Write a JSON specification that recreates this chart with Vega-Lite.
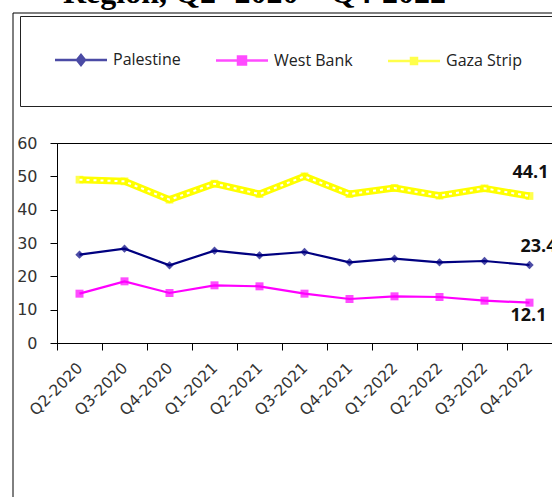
{
  "$schema": "https://vega.github.io/schema/vega-lite/v6.json",
  "width": 495,
  "height": 200,
  "autosize": {"type": "none"},
  "padding": {"left": 57, "top": 143, "right": 0, "bottom": 154},
  "background": "white",
  "title": {
    "text": "Region, Q2- 2020 – Q4-2022",
    "font": "Liberation Serif",
    "fontSize": 32,
    "fontWeight": "bold",
    "color": "black",
    "anchor": "start",
    "frame": "group",
    "baseline": "alphabetic",
    "offset": 0,
    "dx": 6,
    "dy": 23
  },
  "data": {
    "values": [
      {"quarter": "Q2-2020", "series": "Palestine", "value": 26.5},
      {"quarter": "Q3-2020", "series": "Palestine", "value": 28.3},
      {"quarter": "Q4-2020", "series": "Palestine", "value": 23.3},
      {"quarter": "Q1-2021", "series": "Palestine", "value": 27.7},
      {"quarter": "Q2-2021", "series": "Palestine", "value": 26.3},
      {"quarter": "Q3-2021", "series": "Palestine", "value": 27.3},
      {"quarter": "Q4-2021", "series": "Palestine", "value": 24.2},
      {"quarter": "Q1-2022", "series": "Palestine", "value": 25.3},
      {"quarter": "Q2-2022", "series": "Palestine", "value": 24.2},
      {"quarter": "Q3-2022", "series": "Palestine", "value": 24.6},
      {"quarter": "Q4-2022", "series": "Palestine", "value": 23.4},
      {"quarter": "Q2-2020", "series": "West Bank", "value": 14.8},
      {"quarter": "Q3-2020", "series": "West Bank", "value": 18.5},
      {"quarter": "Q4-2020", "series": "West Bank", "value": 15.0},
      {"quarter": "Q1-2021", "series": "West Bank", "value": 17.3},
      {"quarter": "Q2-2021", "series": "West Bank", "value": 17.0},
      {"quarter": "Q3-2021", "series": "West Bank", "value": 14.8},
      {"quarter": "Q4-2021", "series": "West Bank", "value": 13.2},
      {"quarter": "Q1-2022", "series": "West Bank", "value": 14.0},
      {"quarter": "Q2-2022", "series": "West Bank", "value": 13.8},
      {"quarter": "Q3-2022", "series": "West Bank", "value": 12.7},
      {"quarter": "Q4-2022", "series": "West Bank", "value": 12.1},
      {"quarter": "Q2-2020", "series": "Gaza Strip", "value": 49.0},
      {"quarter": "Q3-2020", "series": "Gaza Strip", "value": 48.5},
      {"quarter": "Q4-2020", "series": "Gaza Strip", "value": 43.0},
      {"quarter": "Q1-2021", "series": "Gaza Strip", "value": 47.8},
      {"quarter": "Q2-2021", "series": "Gaza Strip", "value": 44.7},
      {"quarter": "Q3-2021", "series": "Gaza Strip", "value": 50.0},
      {"quarter": "Q4-2021", "series": "Gaza Strip", "value": 44.7},
      {"quarter": "Q1-2022", "series": "Gaza Strip", "value": 46.5},
      {"quarter": "Q2-2022", "series": "Gaza Strip", "value": 44.2},
      {"quarter": "Q3-2022", "series": "Gaza Strip", "value": 46.4},
      {"quarter": "Q4-2022", "series": "Gaza Strip", "value": 44.1}
    ]
  },
  "encoding": {
    "x": {
      "field": "quarter",
      "type": "nominal",
      "sort": ["Q2-2020", "Q3-2020", "Q4-2020", "Q1-2021", "Q2-2021", "Q3-2021", "Q4-2021", "Q1-2022", "Q2-2022", "Q3-2022", "Q4-2022"],
      "scale": {"type": "band", "paddingInner": 0, "paddingOuter": 0},
      "axis": {
        "title": null,
        "labelAngle": -45,
        "labelAlign": "right",
        "labelBaseline": "middle",
        "labelFont": "DejaVu Sans",
        "labelFontSize": 15.5,
        "labelColor": "#333333",
        "labelPadding": 15,
        "labelOverlap": false,
        "labelBound": false,
        "labelFlush": false,
        "tickBand": "extent",
        "tickSize": 7,
        "tickColor": "black",
        "domainColor": "black",
        "grid": false
      }
    },
    "y": {
      "field": "value",
      "type": "quantitative",
      "scale": {"domain": [0, 60], "nice": false},
      "axis": {
        "title": null,
        "values": [0, 10, 20, 30, 40, 50, 60],
        "labelFont": "DejaVu Sans",
        "labelFontSize": 16,
        "labelColor": "#333333",
        "labelPadding": 13,
        "tickSize": 7,
        "tickColor": "black",
        "domainColor": "black",
        "grid": false
      }
    },
    "color": {
      "field": "series",
      "type": "nominal",
      "scale": {
        "domain": ["Palestine", "West Bank", "Gaza Strip"],
        "range": ["#000080", "#ff00ff", "#ffff00"]
      },
      "legend": {
        "title": null,
        "orient": "none",
        "legendX": -37,
        "legendY": -127,
        "direction": "horizontal",
        "columns": 3,
        "strokeColor": "#222222",
        "padding": 36,
        "symbolSize": 100,
        "symbolStrokeWidth": 2.5,
        "symbolOffset": 17,
        "labelFont": "Open Sans",
        "labelFontSize": 16,
        "labelColor": "#222222",
        "labelOffset": 24,
        "columnPadding": 30
      }
    }
  },
  "layer": [
    {
      "transform": [{"filter": "false"}],
      "mark": {"type": "point", "filled": true},
      "encoding": {
        "shape": {
          "field": "series",
          "type": "nominal",
          "scale": {
            "domain": ["Palestine", "West Bank", "Gaza Strip"],
            "range": ["M-5.2,0H5.2M0,-1L0.8,0L0,1L-0.8,0Z", "M-5.2,0H5.2M-0.8,-0.8H0.8V0.8H-0.8Z", "M-5.2,0H5.2M-0.6,-0.6H0.6V0.6H-0.6Z"]
          },
          "legend": {
            "title": null,
            "orient": "none",
            "legendX": -37,
            "legendY": -127,
            "direction": "horizontal",
            "columns": 3,
            "strokeColor": "#222222",
            "padding": 36,
            "symbolSize": 100,
            "symbolStrokeWidth": 2.5,
            "symbolOffset": 17,
            "labelFont": "Open Sans",
            "labelFontSize": 16,
            "labelColor": "#222222",
            "labelOffset": 24,
            "columnPadding": 30
          }
        }
      }
    },
    {
      "transform": [{"filter": "datum.series === 'Gaza Strip'"}],
      "mark": {"type": "line", "strokeWidth": 7, "strokeJoin": "round"}
    },
    {
      "transform": [{"filter": "datum.series === 'Gaza Strip'"}],
      "mark": {"type": "point", "shape": "square", "filled": true, "size": 60}
    },
    {
      "transform": [{"filter": "datum.series === 'Gaza Strip'"}],
      "mark": {"type": "line", "strokeWidth": 2, "strokeDash": [3, 4]},
      "encoding": {"color": {"value": "white"}}
    },
    {
      "transform": [{"filter": "datum.series !== 'Gaza Strip'"}],
      "mark": {"type": "line", "strokeWidth": 2.2}
    },
    {
      "transform": [{"filter": "datum.series === 'Palestine'"}],
      "mark": {"type": "point", "shape": "diamond", "filled": true, "size": 70}
    },
    {
      "transform": [{"filter": "datum.series === 'West Bank'"}],
      "mark": {"type": "point", "shape": "square", "filled": true, "size": 64}
    },
    {
      "transform": [{"filter": "datum.series === 'Gaza Strip' && datum.quarter === 'Q4-2022'"}],
      "mark": {"type": "line"},
      "encoding": {
        "color": {"value": "white"},
        "strokeDash": {
          "field": "quarter",
          "type": "nominal",
          "scale": {"range": [[1, 0]]},
          "legend": {
            "title": null,
            "orient": "none",
            "legendX": -44.5,
            "legendY": -130.5,
            "padding": 280,
            "strokeColor": "black",
            "symbolOpacity": 0,
            "labelOpacity": 0
          }
        }
      }
    },
    {
      "transform": [{"filter": "datum.series === 'Gaza Strip' && datum.quarter === 'Q4-2022'"}],
      "mark": {"type": "text", "font": "Open Sans", "fontSize": 18, "fontWeight": "bold", "baseline": "middle", "align": "center", "dx": 1, "dy": -23},
      "encoding": {
        "text": {"field": "value", "type": "quantitative", "format": ".1f"},
        "color": {"value": "#111111"}
      }
    },
    {
      "transform": [{"filter": "datum.series === 'Palestine' && datum.quarter === 'Q4-2022'"}],
      "mark": {"type": "text", "font": "Open Sans", "fontSize": 18, "fontWeight": "bold", "baseline": "middle", "align": "center", "dx": 9, "dy": -18},
      "encoding": {
        "text": {"field": "value", "type": "quantitative", "format": ".1f"},
        "color": {"value": "#111111"}
      }
    },
    {
      "transform": [{"filter": "datum.series === 'West Bank' && datum.quarter === 'Q4-2022'"}],
      "mark": {"type": "text", "font": "Open Sans", "fontSize": 18, "fontWeight": "bold", "baseline": "middle", "align": "center", "dx": -1, "dy": 13},
      "encoding": {
        "text": {"field": "value", "type": "quantitative", "format": ".1f"},
        "color": {"value": "#111111"}
      }
    }
  ],
  "config": {
    "view": {"stroke": "black", "strokeWidth": 1}
  }
}
